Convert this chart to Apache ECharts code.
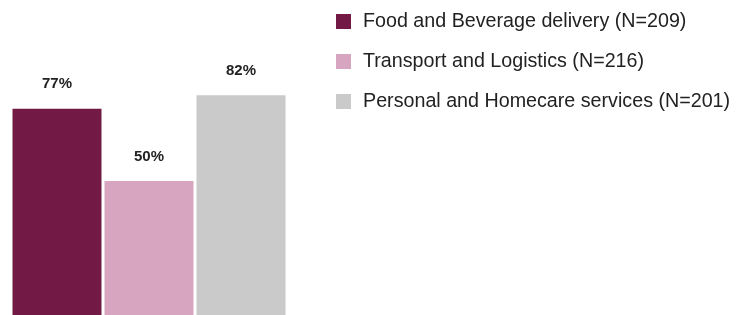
<!DOCTYPE html>
<html>
<head>
<meta charset="utf-8">
<script src="https://cdn.jsdelivr.net/npm/echarts@6/dist/echarts.min.js"></script>
<style>html,body{margin:0;padding:0;background:#fff;}#c{width:739px;height:315px;}</style>
</head>
<body>
<div id="c"></div>
<script>
var categories = ['Food and Beverage delivery', 'Transport and Logistics', 'Personal and Homecare services'];
var seriesNames = ['Food and Beverage delivery (N=209)', 'Transport and Logistics (N=216)', 'Personal and Homecare services (N=201)'];
var values = [77, 50, 82];
var colors = ['#721A45', '#D7A5BF', '#CACACA'];

var chart = echarts.init(document.getElementById('c'), null, {renderer: 'canvas'});
var series = seriesNames.map(function (name, i) {
  var d = categories.map(function (c, j) { return j === i ? values[i] : null; });
  return {
    name: name,
    type: 'bar',
    data: d,
    barWidth: 89,
    barGap: '-100%',
    itemStyle: {color: colors[i]},
    label: {
      show: true,
      position: 'top',
      distance: 17,
      formatter: '{c}%',
      fontFamily: 'Liberation Sans',
      fontWeight: 'bold',
      fontSize: 15,
      color: '#222'
    }
  };
});
chart.setOption({
  animation: false,
  backgroundColor: '#fff',
  grid: {left: 11, right: 452, top: 47, bottom: 0},
  xAxis: {type: 'category', data: categories, show: false},
  yAxis: {type: 'value', min: 0, max: 100, show: false},
  legend: {
    orient: 'vertical',
    left: 336,
    top: 11.5,
    padding: 0,
    itemWidth: 15,
    itemHeight: 15,
    itemGap: 20,
    icon: 'rect',
    data: seriesNames,
    textStyle: {
      fontFamily: 'Liberation Sans',
      fontSize: 19.7,
      color: '#222',
      padding: [0, 0, 0, 7]
    }
  },
  series: series
});
</script>
</body>
</html>
